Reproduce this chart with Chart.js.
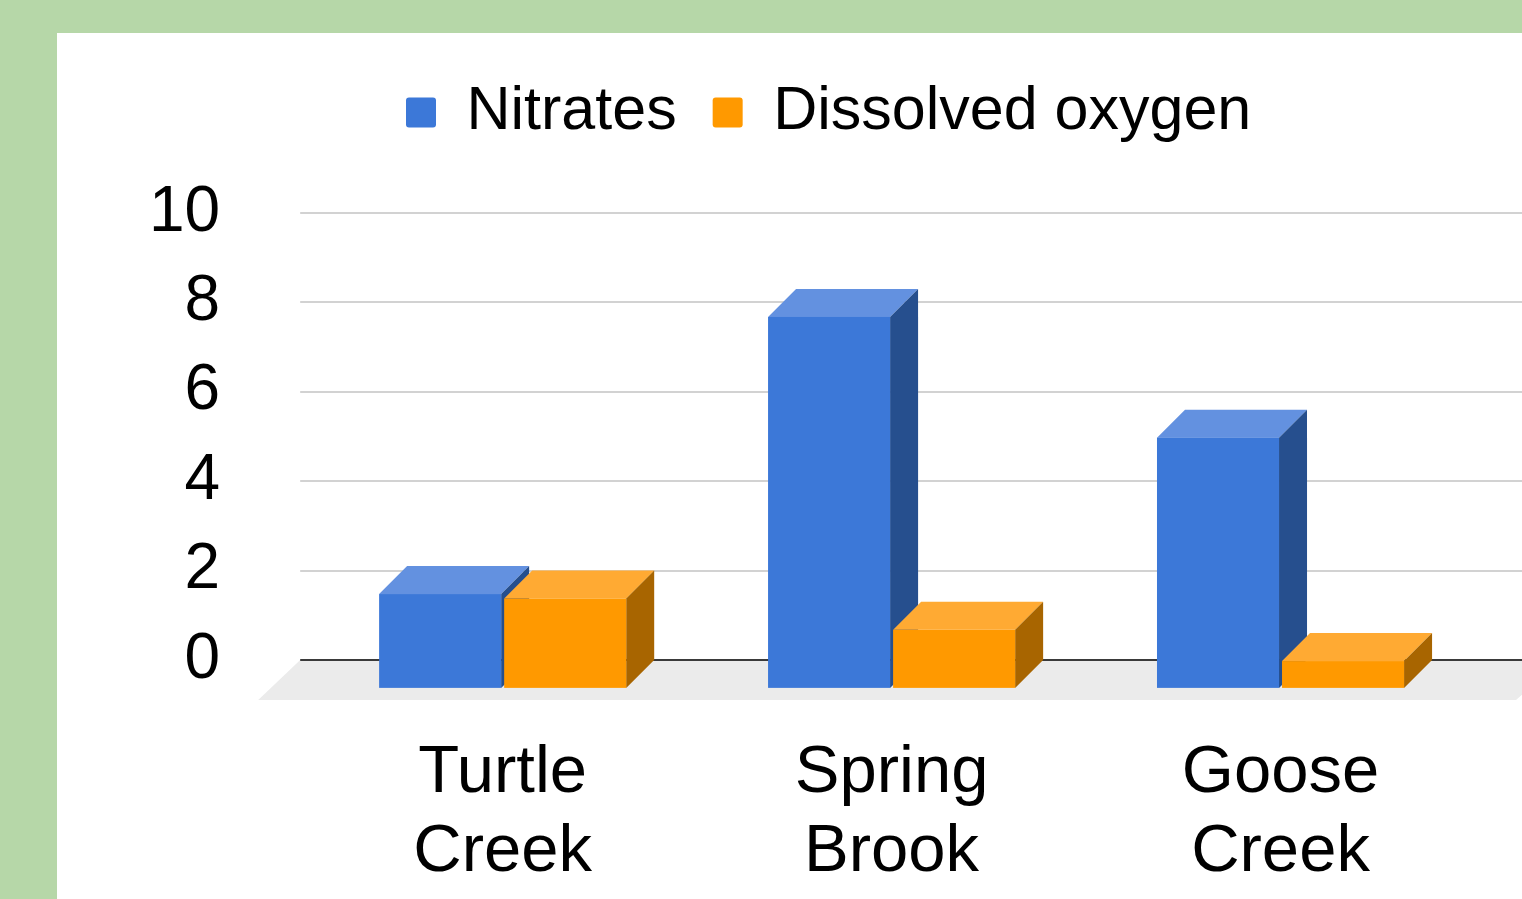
<!DOCTYPE html>
<html>
<head>
<meta charset="utf-8">
<script src="https://cdn.jsdelivr.net/npm/chart.js@4/dist/chart.umd.min.js"></script>
<style>
  html, body { margin: 0; padding: 0; width: 1522px; height: 899px; overflow: hidden; background: #b6d7a8; }
  #panel { position: absolute; left: 57px; top: 33px; right: 0; bottom: 0; background: #ffffff; }
  #wrap { position: absolute; left: 0; top: 0; width: 1522px; height: 899px; }
</style>
</head>
<body>
<div id="panel"></div>
<div id="wrap"><canvas id="chart"></canvas></div>
<script>
// Stream readings per site
const categories = [['Turtle', 'Creek'], ['Spring', 'Brook'], ['Goose', 'Creek']];
const seriesNames = ['Nitrates', 'Dissolved oxygen'];
const nitrates = [2.1, 8.3, 5.6];
const dissolvedOxygen = [2.0, 1.3, 0.6];
const yTicks = [0, 2, 4, 6, 8, 10];

const FONT = '"Liberation Sans", Arial, Helvetica, sans-serif';

// Face shading for the extruded boxes: front, top, right side
const faces = [
  { front: '#3c78d8', top: '#6391e0', side: '#264f8e' },
  { front: '#ff9900', top: '#ffaa33', side: '#a86500' }
];

const DEPTH_X = 28;      // horizontal extrusion of each box
const DEPTH_Y = 28;      // vertical extrusion of each box
const FLOOR_DEPTH = 40;  // depth of the grey floor slab
const WALL_INSET = 8;    // back wall starts slightly left of the category band
const LEGEND_LEFT = 406; // left edge of the first legend swatch
const LEGEND_LIFT = -60; // raise legend above the reserved header band

const threeD = {
  id: 'threeD',
  afterLayout(chart) {
    const lg = chart.legend;
    if (!lg || !lg.lineWidths) return;
    const pad = lg.options.labels.padding;
    const start = (lg.left + pad + lg.right - lg.lineWidths[0]) / 2;
    const dx = LEGEND_LEFT - start;
    lg.left += dx; lg.right += dx;
    lg.top += LEGEND_LIFT; lg.bottom += LEGEND_LIFT;
  },
  beforeDatasetsDraw(chart) {
    const { ctx, chartArea, scales } = chart;
    const ys = scales.y;
    const y0 = ys.getPixelForValue(0);
    const wallLeft = chartArea.left - WALL_INSET;
    ctx.save();

    // floor slab
    ctx.fillStyle = '#ebebeb';
    ctx.beginPath();
    ctx.moveTo(wallLeft, y0);
    ctx.lineTo(chart.width + FLOOR_DEPTH, y0);
    ctx.lineTo(chart.width - 6, y0 + FLOOR_DEPTH);
    ctx.lineTo(wallLeft - FLOOR_DEPTH - 2, y0 + FLOOR_DEPTH);
    ctx.closePath();
    ctx.fill();

    // back-wall gridlines
    yTicks.forEach(v => {
      const py = Math.round(ys.getPixelForValue(v));
      ctx.strokeStyle = v === 0 ? '#3a3a3a' : '#d2d2d2';
      ctx.lineWidth = 2;
      ctx.beginPath();
      ctx.moveTo(wallLeft, py);
      ctx.lineTo(chart.width, py);
      ctx.stroke();
    });

    // extruded bars, left to right so right-hand boxes overlap side faces
    const metas = chart.data.datasets.map((_, d) => chart.getDatasetMeta(d));
    categories.forEach((_, i) => {
      metas.forEach((meta, d) => {
        const el = meta.data[i];
        if (!el) return;
        const p = el.getProps(['x', 'y', 'base', 'width'], true);
        const x0 = p.x - p.width / 2, x1 = p.x + p.width / 2;
        const yt = p.y + DEPTH_Y, yb = p.base + DEPTH_Y;
        const f = faces[d];

        ctx.fillStyle = f.top;
        ctx.beginPath();
        ctx.moveTo(x0, yt);
        ctx.lineTo(x1, yt);
        ctx.lineTo(x1 + DEPTH_X, yt - DEPTH_Y);
        ctx.lineTo(x0 + DEPTH_X, yt - DEPTH_Y);
        ctx.closePath();
        ctx.fill();

        ctx.fillStyle = f.side;
        ctx.beginPath();
        ctx.moveTo(x1, yt);
        ctx.lineTo(x1 + DEPTH_X, yt - DEPTH_Y);
        ctx.lineTo(x1 + DEPTH_X, yb - DEPTH_Y);
        ctx.lineTo(x1, yb);
        ctx.closePath();
        ctx.fill();

        ctx.fillStyle = f.front;
        ctx.fillRect(x0, yt, p.width, yb - yt);
      });
    });

    ctx.restore();
    return false;
  }
};

new Chart(document.getElementById('chart'), {
  type: 'bar',
  data: {
    labels: categories,
    datasets: [
      { label: seriesNames[0], data: nitrates, backgroundColor: faces[0].front, borderWidth: 0 },
      { label: seriesNames[1], data: dissolvedOxygen, backgroundColor: faces[1].front, borderWidth: 0 }
    ]
  },
  options: {
    responsive: true,
    maintainAspectRatio: false,
    animation: false,
    events: [],
    layout: { padding: { top: 106, left: 61, right: 47, bottom: -67 } },
    datasets: { bar: { categoryPercentage: 0.643, barPercentage: 0.976 } },
    plugins: {
      legend: {
        position: 'top',
        align: 'center',
        labels: {
          boxWidth: 30,
          boxHeight: 30,
          padding: 36,
          color: '#000000',
          useBorderRadius: true,
          borderRadius: 3,
          font: { family: FONT, size: 61 }
        }
      },
      tooltip: { enabled: false }
    },
    scales: {
      x: {
        offset: true,
        grid: { display: false, drawTicks: false },
        border: { display: false },
        ticks: {
          padding: 74,
          color: '#000000',
          maxRotation: 0,
          autoSkip: false,
          font: { family: FONT, size: 67, lineHeight: 1.18 }
        }
      },
      y: {
        min: 0,
        max: 10,
        grid: { display: false, drawTicks: false },
        border: { display: false },
        afterBuildTicks: s => { s.ticks = yTicks.map(v => ({ value: v })); },
        ticks: {
          padding: 88,
          autoSkip: false,
          color: '#000000',
          font: { family: FONT, size: 64 }
        }
      }
    }
  },
  plugins: [threeD]
});
</script>
</body>
</html>
